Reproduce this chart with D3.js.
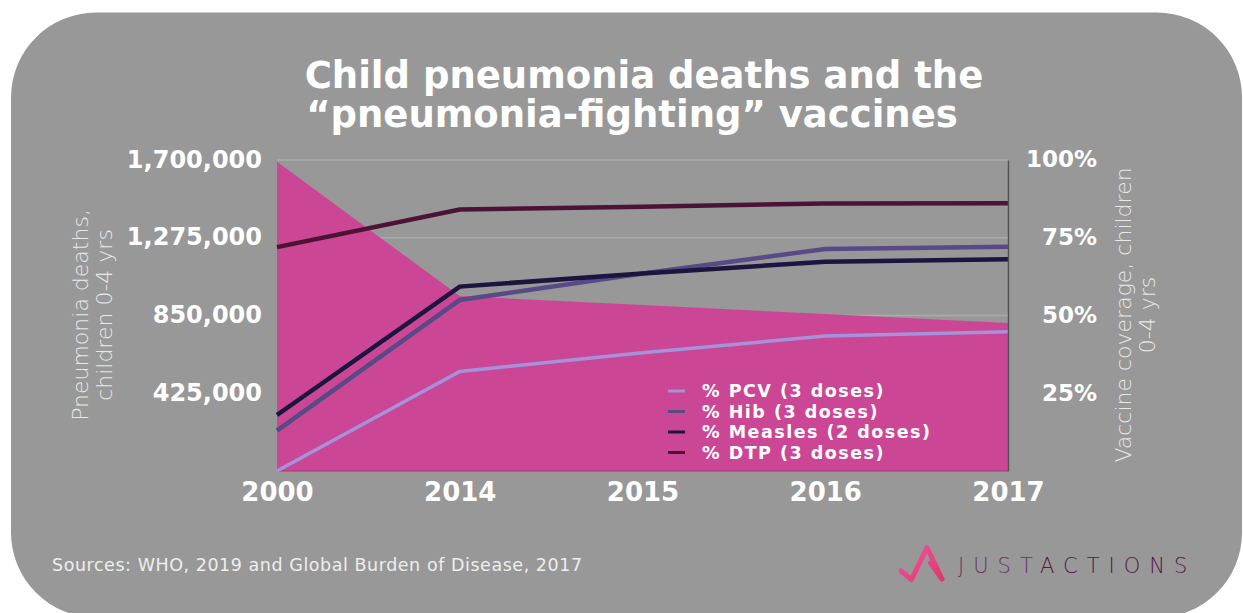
<!DOCTYPE html>
<html>
<head>
<meta charset="utf-8">
<script src="https://cdn.jsdelivr.net/npm/d3@7"></script>
<style>
  html, body { margin: 0; padding: 0; background: #ffffff; }
  svg { display: block; }
  text { font-family: "DejaVu Sans", sans-serif; }
</style>
</head>
<body>
<svg id="chart" width="1243" height="613"></svg>
<script>
// Years along the x axis (evenly spaced categories)
const years = ["2000", "2014", "2015", "2016", "2017"];

// Pneumonia deaths, children 0-4 yrs (left axis)
const deaths = [1690000, 956000, 907000, 858000, 808920];

// Vaccine coverage, % of children (right axis)
const pcv     = [0, 32, 38, 43.4, 44.8];
const hib     = [13, 55, 63.5, 71.4, 72.1];
const measles = [18, 59.3, 63.5, 67.3, 68.1];
const dtp     = [72, 84.1, 85, 86, 86.1];

// Tick labels
const leftTicks  = [425000, 850000, 1275000, 1700000];
const rightTicks = [25, 50, 75, 100];

const series = [
  { name: "% PCV (3 doses)",      values: pcv,     color: "#a592da", width: 3.5 },
  { name: "% Hib (3 doses)",      values: hib,     color: "#574a86", width: 4.5 },
  { name: "% Measles (2 doses)",  values: measles, color: "#1b1540", width: 4.5 },
  { name: "% DTP (3 doses)",      values: dtp,     color: "#4b1436", width: 4.5 }
];

const svg = d3.select("#chart");

// Rounded grey card
svg.append("rect")
  .attr("x", 11).attr("y", 12.5)
  .attr("width", 1231).attr("height", 605)
  .attr("rx", 85).attr("ry", 85)
  .attr("fill", "#989898");

const plot = { left: 277, right: 1008, top: 160, bottom: 471 };

const x = d3.scalePoint().domain(years).range([plot.left, plot.right]);
const yLeft = d3.scaleLinear().domain([0, 1700000]).range([plot.bottom, plot.top]);
const yRight = d3.scaleLinear().domain([0, 100]).range([plot.bottom, plot.top]);

// Horizontal gridlines (behind the area)
svg.append("g")
  .selectAll("line")
  .data(rightTicks)
  .join("line")
  .attr("x1", plot.left).attr("x2", plot.right)
  .attr("y1", d => yRight(d)).attr("y2", d => yRight(d))
  .attr("stroke", "#ababab").attr("stroke-width", 1.5);

// Deaths area
const area = d3.area()
  .x((d, i) => x(years[i]))
  .y0(plot.bottom)
  .y1(d => yLeft(d));

svg.append("path")
  .datum(deaths)
  .attr("d", area)
  .attr("fill", "#cb4795");

// Thin baseline under the area
svg.append("line")
  .attr("x1", plot.left).attr("x2", plot.right)
  .attr("y1", plot.bottom).attr("y2", plot.bottom)
  .attr("stroke", "#a8387a").attr("stroke-width", 1.2);

// Coverage lines
const line = d3.line()
  .x((d, i) => x(years[i]))
  .y(d => yRight(d));

svg.append("g")
  .selectAll("path")
  .data(series)
  .join("path")
  .attr("d", d => line(d.values))
  .attr("fill", "none")
  .attr("stroke", d => d.color)
  .attr("stroke-width", d => d.width);

// Left axis
const gLeft = svg.append("g")
  .attr("transform", `translate(${plot.left},0)`)
  .call(d3.axisLeft(yLeft).tickValues(leftTicks).tickFormat(d3.format(",")).tickSize(0).tickPadding(15));
gLeft.select(".domain").remove();
gLeft.selectAll("text")
  .attr("fill", "#ffffff")
  .attr("font-family", "DejaVu Sans, sans-serif")
  .attr("font-weight", "bold")
  .attr("font-size", 24)
  .attr("dy", "0.3em");

// Right axis
const gRight = svg.append("g")
  .attr("transform", `translate(${plot.right},0)`)
  .call(d3.axisRight(yRight).tickValues(rightTicks).tickFormat(d => d + "%").tickSize(0).tickSizeOuter(0).tickPadding(89));
gRight.select(".domain").attr("stroke", "#555555").attr("stroke-width", 1.5);
gRight.selectAll("text")
  .attr("text-anchor", "end")
  .attr("fill", "#ffffff")
  .attr("font-family", "DejaVu Sans, sans-serif")
  .attr("font-weight", "bold")
  .attr("font-size", 23)
  .attr("dy", "0.3em");

// Bottom axis
const gBottom = svg.append("g")
  .attr("transform", `translate(0,${plot.bottom})`)
  .call(d3.axisBottom(x).tickSize(0).tickPadding(12));
gBottom.select(".domain").remove();
gBottom.selectAll("text")
  .attr("fill", "#ffffff")
  .attr("font-family", "DejaVu Sans, sans-serif")
  .attr("font-weight", "bold")
  .attr("font-size", 26)
  .attr("dy", "0.71em");

// Title
const title = svg.append("g")
  .attr("fill", "#ffffff")
  .attr("font-weight", "bold")
  .attr("font-size", 37)
  .attr("text-anchor", "middle");
title.append("text").attr("x", 644).attr("y", 88).text("Child pneumonia deaths and the");
title.append("text").attr("x", 632).attr("y", 127).text("\u201Cpneumonia-fighting\u201D vaccines");

// Axis titles
const leftTitle = svg.append("text")
  .attr("transform", "translate(88,315) rotate(-90)")
  .attr("text-anchor", "middle")
  .attr("fill", "#e8e8e8")
  .attr("font-size", 22)
  .attr("font-weight", 200);
leftTitle.append("tspan").attr("x", 0).attr("y", 0).text("Pneumonia deaths,");
leftTitle.append("tspan").attr("x", 0).attr("y", 24).text("children 0-4 yrs");

const rightTitle = svg.append("text")
  .attr("transform", "translate(1131,315) rotate(-90)")
  .attr("text-anchor", "middle")
  .attr("fill", "#e8e8e8")
  .attr("font-size", 22)
  .attr("font-weight", 200);
rightTitle.append("tspan").attr("x", 0).attr("y", 0).text("Vaccine coverage, children");
rightTitle.append("tspan").attr("x", 0).attr("y", 24).text("0-4 yrs");

// Legend
const legend = svg.append("g");
const legendRows = legend.selectAll("g")
  .data(series)
  .join("g")
  .attr("transform", (d, i) => `translate(668,${391 + i * 20.5})`);
legendRows.append("line")
  .attr("x1", 0).attr("x2", 17)
  .attr("stroke", d => d.color)
  .attr("stroke-width", 3);
legendRows.append("text")
  .attr("x", 34).attr("dy", "0.36em")
  .attr("fill", "#ffffff")
  .attr("font-weight", "bold")
  .attr("font-size", 17.5)
  .attr("letter-spacing", 1.5)
  .text(d => d.name);

// Sources note
svg.append("text")
  .attr("x", 52).attr("y", 571)
  .attr("fill", "#eeeeee")
  .attr("font-size", 17.5)
  .attr("letter-spacing", 0.55)
  .text("Sources: WHO, 2019 and Global Burden of Disease, 2017");

// Logo mark
const grad = svg.append("defs").append("linearGradient")
  .attr("id", "logoGrad").attr("x1", 0).attr("y1", 0).attr("x2", 1).attr("y2", 1);
grad.append("stop").attr("offset", "0%").attr("stop-color", "#f0559d");
grad.append("stop").attr("offset", "100%").attr("stop-color", "#e0386e");
svg.append("path")
  .attr("d", "M901,571 L911.5,579.5 L927,547.5 L942,579 M930.5,563 L942,579")
  .attr("fill", "none")
  .attr("stroke", "url(#logoGrad)")
  .attr("stroke-width", 5)
  .attr("stroke-linecap", "round")
  .attr("stroke-linejoin", "round");

// Logo wordmark
const word = svg.append("text")
  .attr("x", 958).attr("y", 573)
  .attr("font-size", 21)
  .attr("letter-spacing", 9)
  .attr("font-weight", 200);
word.append("tspan").attr("fill", "#6a3560").text("JUST");
word.append("tspan").attr("fill", "#571644").text("ACTIONS");
</script>
</body>
</html>
